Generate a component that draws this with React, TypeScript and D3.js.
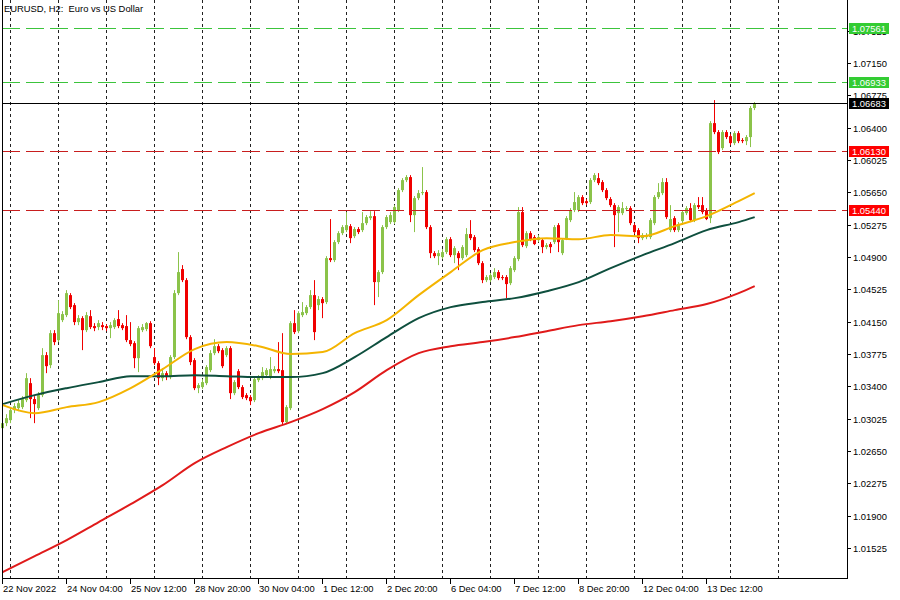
import React, { useEffect, useRef } from 'react';
import * as d3 from 'd3';

// EURUSD H2 bars, 22 Nov 2022 20:00 .. 14 Dec 2022 12:00
const opens = [
  1.02915, 1.02973, 1.03008, 1.03124, 1.03147, 1.03159, 1.03240, 1.03437, 1.03252, 1.03147,
  1.03298, 1.03762, 1.03646, 1.04017, 1.03936, 1.04168, 1.04226, 1.04458, 1.04342, 1.04145,
  1.04191, 1.04052, 1.04214, 1.04099, 1.04087, 1.04110, 1.04099, 1.04075, 1.04087, 1.04180,
  1.04110, 1.04099, 1.03936, 1.03901, 1.03727, 1.04052, 1.04064, 1.04133, 1.03739, 1.03669,
  1.03495, 1.03553, 1.03507, 1.03739, 1.04481, 1.04760, 1.04632, 1.03971, 1.03704, 1.03379,
  1.03391, 1.03437, 1.03588, 1.03785, 1.03866, 1.03820, 1.03762, 1.03843, 1.03321, 1.03576,
  1.03391, 1.03298, 1.03275, 1.03240, 1.03472, 1.03495, 1.03530, 1.03507, 1.03576, 1.03600,
  1.03588, 1.02985, 1.03147, 1.04133, 1.04040, 1.04226, 1.04249, 1.04319, 1.04458, 1.04342,
  1.04412, 1.04377, 1.04887, 1.04864, 1.05073, 1.05177, 1.05212, 1.05258, 1.05142, 1.05224,
  1.05212, 1.05293, 1.05351, 1.05374, 1.04609, 1.04725, 1.05247, 1.05305, 1.05305, 1.05444,
  1.05676, 1.05792, 1.05827, 1.05386, 1.05583, 1.05641, 1.05653, 1.05247, 1.04945, 1.04910,
  1.04899, 1.04957, 1.05107, 1.04922, 1.04945, 1.04887, 1.04922, 1.05166, 1.05131, 1.04991,
  1.04829, 1.04632, 1.04632, 1.04667, 1.04725, 1.04667, 1.04667, 1.04597, 1.04748, 1.04876,
  1.05421, 1.05026, 1.05177, 1.05131, 1.05096, 1.05096, 1.05015, 1.05050, 1.05073, 1.05270,
  1.04945, 1.05119, 1.05328, 1.05444, 1.05444, 1.05595, 1.05548, 1.05537, 1.05792, 1.05815,
  1.05769, 1.05676, 1.05572, 1.05502, 1.05409, 1.05409, 1.05456, 1.05467, 1.05270, 1.05212,
  1.05119, 1.05131, 1.05131, 1.05293, 1.05595, 1.05641, 1.05769, 1.05212, 1.05351, 1.05212,
  1.05317, 1.05409, 1.05467, 1.05328, 1.05502, 1.05502, 1.05444, 1.05351, 1.06453, 1.06349,
  1.06163, 1.06349, 1.06302, 1.06221, 1.06337, 1.06256, 1.06244, 1.06291, 1.06628,
];
const highs = [
  1.03008, 1.03077, 1.03147, 1.03205, 1.03240, 1.03286, 1.03553, 1.03495, 1.03286, 1.03333,
  1.03843, 1.03797, 1.04052, 1.04052, 1.04400, 1.04272, 1.04516, 1.04481, 1.04365, 1.04226,
  1.04214, 1.04261, 1.04284, 1.04133, 1.04168, 1.04145, 1.04122, 1.04145, 1.04191, 1.04284,
  1.04133, 1.04226, 1.04145, 1.03924, 1.04099, 1.04122, 1.04145, 1.04156, 1.03843, 1.03692,
  1.03611, 1.03576, 1.03762, 1.04516, 1.04957, 1.04806, 1.04655, 1.03994, 1.03727, 1.03437,
  1.03483, 1.03646, 1.03820, 1.03947, 1.03890, 1.03843, 1.03866, 1.03866, 1.03472, 1.03600,
  1.03414, 1.03321, 1.03298, 1.03507, 1.03530, 1.03623, 1.03611, 1.03739, 1.03634, 1.03913,
  1.04017, 1.03182, 1.04156, 1.04284, 1.04272, 1.04377, 1.04342, 1.04516, 1.04632, 1.04447,
  1.04435, 1.04910, 1.05340, 1.05096, 1.05200, 1.05270, 1.05421, 1.05282, 1.05247, 1.05247,
  1.05421, 1.05386, 1.05432, 1.05432, 1.04748, 1.05270, 1.05386, 1.05421, 1.05502, 1.05699,
  1.05815, 1.05850, 1.05850, 1.05607, 1.05676, 1.05943, 1.05676, 1.05270, 1.04968, 1.04980,
  1.04991, 1.05131, 1.05131, 1.05026, 1.04968, 1.05038, 1.05235, 1.05328, 1.05154, 1.05015,
  1.04852, 1.04690, 1.04713, 1.04771, 1.04748, 1.04690, 1.04690, 1.04795, 1.04910, 1.05479,
  1.05479, 1.05200, 1.05200, 1.05154, 1.05154, 1.05119, 1.05061, 1.05073, 1.05270, 1.05293,
  1.05119, 1.05374, 1.05467, 1.05653, 1.05618, 1.05618, 1.05572, 1.05815, 1.05873, 1.05873,
  1.05792, 1.05699, 1.05595, 1.05525, 1.05502, 1.05537, 1.05490, 1.05490, 1.05293, 1.05235,
  1.05177, 1.05177, 1.05351, 1.05618, 1.05757, 1.05815, 1.05815, 1.05502, 1.05374, 1.05305,
  1.05444, 1.05490, 1.05525, 1.05525, 1.05595, 1.05595, 1.05467, 1.06476, 1.06720, 1.06372,
  1.06372, 1.06372, 1.06325, 1.06360, 1.06360, 1.06279, 1.06314, 1.06651, 1.06697,
];
const lows = [
  1.02892, 1.02938, 1.02973, 1.03089, 1.03112, 1.03136, 1.03217, 1.03031, 1.02973, 1.03124,
  1.03275, 1.03553, 1.03611, 1.03878, 1.03913, 1.04145, 1.04203, 1.04296, 1.04110, 1.04110,
  1.03820, 1.04029, 1.04064, 1.04040, 1.04052, 1.04052, 1.04040, 1.03959, 1.04064, 1.04075,
  1.04052, 1.03913, 1.03866, 1.03611, 1.03565, 1.04029, 1.04040, 1.03843, 1.03646, 1.03414,
  1.03460, 1.03472, 1.03483, 1.03716, 1.04458, 1.04609, 1.03947, 1.03646, 1.03356, 1.03321,
  1.03368, 1.03414, 1.03565, 1.03762, 1.03785, 1.03611, 1.03739, 1.03252, 1.03298, 1.03368,
  1.03252, 1.03240, 1.03182, 1.03217, 1.03449, 1.03472, 1.03507, 1.03483, 1.03553, 1.03553,
  1.02950, 1.02962, 1.03124, 1.04006, 1.04017, 1.04203, 1.04226, 1.04296, 1.03936, 1.04284,
  1.04191, 1.04354, 1.04841, 1.04841, 1.05050, 1.05154, 1.05189, 1.05061, 1.05119, 1.05166,
  1.05189, 1.05270, 1.05328, 1.04342, 1.04435, 1.04702, 1.05224, 1.05282, 1.05282, 1.05421,
  1.05653, 1.05769, 1.05305, 1.05189, 1.05560, 1.05618, 1.05224, 1.04887, 1.04887, 1.04806,
  1.04876, 1.04934, 1.04899, 1.04829, 1.04748, 1.04864, 1.04899, 1.05096, 1.04957, 1.04806,
  1.04597, 1.04609, 1.04609, 1.04644, 1.04632, 1.04632, 1.04423, 1.04574, 1.04725, 1.04852,
  1.05015, 1.05003, 1.05084, 1.05038, 1.05073, 1.04945, 1.04991, 1.04945, 1.05050, 1.04957,
  1.04922, 1.05096, 1.05305, 1.05421, 1.05421, 1.05502, 1.05502, 1.05514, 1.05769, 1.05734,
  1.05653, 1.05560, 1.05479, 1.05015, 1.05189, 1.05386, 1.05432, 1.05270, 1.05166, 1.05061,
  1.05096, 1.05107, 1.05107, 1.05270, 1.05572, 1.05618, 1.05340, 1.05189, 1.05189, 1.05189,
  1.05293, 1.05386, 1.05305, 1.05305, 1.05456, 1.05397, 1.05328, 1.05293, 1.06325, 1.06094,
  1.06140, 1.06268, 1.06198, 1.06198, 1.06221, 1.06221, 1.06198, 1.06175, 1.06604,
];
const closes = [
  1.02973, 1.03031, 1.03124, 1.03170, 1.03205, 1.03252, 1.03495, 1.03252, 1.03194, 1.03298,
  1.03762, 1.03634, 1.04017, 1.03913, 1.04249, 1.04238, 1.04481, 1.04319, 1.04145, 1.04191,
  1.04052, 1.04226, 1.04087, 1.04075, 1.04133, 1.04087, 1.04075, 1.04110, 1.04168, 1.04099,
  1.04075, 1.03936, 1.03890, 1.03727, 1.04075, 1.04087, 1.04133, 1.03866, 1.03669, 1.03495,
  1.03553, 1.03507, 1.03739, 1.04481, 1.04725, 1.04632, 1.03971, 1.03681, 1.03379, 1.03414,
  1.03449, 1.03623, 1.03785, 1.03866, 1.03808, 1.03634, 1.03843, 1.03321, 1.03449, 1.03391,
  1.03275, 1.03263, 1.03228, 1.03483, 1.03507, 1.03565, 1.03588, 1.03600, 1.03600, 1.03576,
  1.02985, 1.03159, 1.04133, 1.04029, 1.04249, 1.04261, 1.04319, 1.04458, 1.04029, 1.04412,
  1.04365, 1.04887, 1.04864, 1.05073, 1.05177, 1.05247, 1.05270, 1.05119, 1.05224, 1.05189,
  1.05293, 1.05363, 1.05374, 1.04609, 1.04725, 1.05247, 1.05363, 1.05386, 1.05479, 1.05676,
  1.05792, 1.05827, 1.05386, 1.05583, 1.05641, 1.05653, 1.05247, 1.04945, 1.04910, 1.04945,
  1.04957, 1.05107, 1.04922, 1.05003, 1.04887, 1.05015, 1.05166, 1.05119, 1.04980, 1.04829,
  1.04632, 1.04667, 1.04690, 1.04725, 1.04655, 1.04655, 1.04586, 1.04771, 1.04887, 1.05421,
  1.05038, 1.05177, 1.05107, 1.05050, 1.05131, 1.05015, 1.05038, 1.05015, 1.05247, 1.05073,
  1.05096, 1.05351, 1.05444, 1.05537, 1.05595, 1.05525, 1.05525, 1.05792, 1.05850, 1.05757,
  1.05676, 1.05583, 1.05502, 1.05386, 1.05479, 1.05467, 1.05467, 1.05293, 1.05189, 1.05119,
  1.05154, 1.05154, 1.05328, 1.05595, 1.05653, 1.05769, 1.05363, 1.05340, 1.05212, 1.05282,
  1.05421, 1.05467, 1.05328, 1.05502, 1.05479, 1.05421, 1.05340, 1.06453, 1.06349, 1.06117,
  1.06349, 1.06291, 1.06221, 1.06337, 1.06244, 1.06244, 1.06291, 1.06628, 1.06683,
];

// moving averages at every 8th bar
const maBars = [0, 8, 16, 24, 32, 40, 48, 56, 64, 72, 80, 88, 96, 104, 112, 120, 128, 136, 144, 152, 160, 168, 176, 184, 188];
const maFast = [
  1.03182, 1.03089, 1.03159, 1.03217, 1.03379, 1.03600, 1.03832, 1.03913, 1.03866, 1.03774,
  1.03797, 1.04017, 1.04168, 1.04458, 1.04725, 1.04980, 1.05073, 1.05119, 1.05107, 1.05154,
  1.05142, 1.05258, 1.05374, 1.05548, 1.05641,
];
const maMid = [
  1.03194, 1.03298, 1.03379, 1.03449, 1.03518, 1.03518, 1.03530, 1.03518, 1.03507, 1.03507,
  1.03553, 1.03739, 1.03971, 1.04191, 1.04319, 1.04377, 1.04423, 1.04504, 1.04609, 1.04771,
  1.04922, 1.05061, 1.05212, 1.05305, 1.05363,
];
const maSlow = [
  1.01245, 1.01430, 1.01616, 1.01825, 1.02034, 1.02254, 1.02509, 1.02695, 1.02857, 1.02985,
  1.03136, 1.03333, 1.03588, 1.03785, 1.03866, 1.03913, 1.03971, 1.04040, 1.04110, 1.04156,
  1.04214, 1.04284, 1.04354, 1.04481, 1.04562,
];

// horizontal levels
const greenLevels = [1.07561, 1.06933];
const redLevels = [1.06130, 1.05440];
const bidPrice = 1.06683;

const priceTicks = [
  1.01525, 1.01900, 1.02275, 1.02650, 1.03025, 1.03400, 1.03775, 1.04150, 1.04525,
  1.04900, 1.05275, 1.05650, 1.06025, 1.06400, 1.06775, 1.07150, 1.07525,
];
const timeTickBars = [0, 16, 32, 48, 64, 80, 96, 112, 128, 144, 160, 176];
const timeLabels = [
  '22 Nov 2022', '24 Nov 04:00', '25 Nov 12:00', '28 Nov 20:00', '30 Nov 04:00', '1 Dec 12:00',
  '2 Dec 20:00', '6 Dec 04:00', '7 Dec 12:00', '8 Dec 20:00', '12 Dec 04:00', '13 Dec 12:00',
];
const dayStartBars = [2, 14, 26, 38, 50, 62, 74, 86, 98, 110, 122, 134, 146, 158, 170, 182, 194];

const FONT = 'Liberation Sans, Arial, sans-serif';

const App: React.FC = () => {
  const svgRef = useRef<SVGSVGElement>(null);

  useEffect(() => {
    if (!svgRef.current) return;
    const svg = d3.select(svgRef.current);
    svg.selectAll('*').remove();

    const left = 2, right = 847, top = 0, bottom = 578;
    const x = d3.scaleLinear().domain([0, 188]).range([2.7, 754.7]);
    const y = d3.scaleLinear().domain([1.01177, 1.07881]).range([bottom, top]);
    const px = (i: number) => Math.floor(x(i)) + 0.5;

    const bull = '#8bc34a';
    const bear = '#f00000';

    svg.append('rect').attr('width', 900).attr('height', 600).attr('fill', '#fff');

    // day separators (dotted)
    svg.append('g')
      .selectAll('line')
      .data(dayStartBars)
      .join('line')
      .attr('x1', d => px(d))
      .attr('x2', d => px(d))
      .attr('y1', top)
      .attr('y2', bottom)
      .attr('stroke', '#222')
      .attr('stroke-dasharray', '3,3');

    // title
    svg.append('text')
      .attr('x', 4)
      .attr('y', 12)
      .attr('font-family', FONT)
      .attr('font-size', 9.4)
      .style('white-space', 'pre')
      .text('EURUSD, H2:  Euro vs US Dollar');

    // candles
    const candles = svg.append('g');
    closes.forEach((c, i) => {
      const o = opens[i];
      const color = c >= o ? bull : bear;
      const cx = px(i);
      candles.append('line')
        .attr('x1', cx).attr('x2', cx)
        .attr('y1', y(highs[i])).attr('y2', y(lows[i]))
        .attr('stroke', color);
      const yTop = y(Math.max(o, c));
      const yBot = y(Math.min(o, c));
      candles.append('rect')
        .attr('x', cx - 1.5)
        .attr('y', yTop)
        .attr('width', 3)
        .attr('height', Math.max(1, yBot - yTop))
        .attr('fill', color);
    });

    // moving averages
    const maLine = d3.line<number>()
      .x((_, k) => x(maBars[k]))
      .y(v => y(v))
      .curve(d3.curveMonotoneX);
    svg.append('path').attr('d', maLine(maSlow)).attr('fill', 'none').attr('stroke', '#e01a1a').attr('stroke-width', 2);
    svg.append('path').attr('d', maLine(maMid)).attr('fill', 'none').attr('stroke', '#0e4f3e').attr('stroke-width', 2);
    svg.append('path').attr('d', maLine(maFast)).attr('fill', 'none').attr('stroke', '#f4b400').attr('stroke-width', 2);

    // level lines
    const lv = svg.append('g');
    greenLevels.forEach(v => {
      lv.append('line')
        .attr('x1', left).attr('x2', right)
        .attr('y1', Math.round(y(v)) + 0.5).attr('y2', Math.round(y(v)) + 0.5)
        .attr('stroke', '#3cc43c').attr('stroke-dasharray', '18,6');
    });
    redLevels.forEach(v => {
      lv.append('line')
        .attr('x1', left).attr('x2', right)
        .attr('y1', Math.round(y(v)) + 0.5).attr('y2', Math.round(y(v)) + 0.5)
        .attr('stroke', '#c81e1e').attr('stroke-dasharray', '18,6');
    });
    lv.append('line')
      .attr('x1', left).attr('x2', right)
      .attr('y1', Math.round(y(bidPrice)) + 0.5).attr('y2', Math.round(y(bidPrice)) + 0.5)
      .attr('stroke', '#000');

    // frame
    svg.append('line').attr('x1', left + 0.5).attr('x2', left + 0.5).attr('y1', top).attr('y2', bottom + 0.5).attr('stroke', '#000');
    svg.append('line').attr('x1', right + 0.5).attr('x2', right + 0.5).attr('y1', top).attr('y2', bottom + 0.5).attr('stroke', '#000');
    svg.append('line').attr('x1', left).attr('x2', right + 1).attr('y1', bottom + 0.5).attr('y2', bottom + 0.5).attr('stroke', '#000');

    // price axis
    const pa = svg.append('g');
    priceTicks.forEach(v => {
      const yy = Math.round(y(v)) + 0.5;
      pa.append('line').attr('x1', right + 1).attr('x2', right + 4).attr('y1', yy).attr('y2', yy).attr('stroke', '#000');
      pa.append('text')
        .attr('x', 853).attr('y', yy + 3.5)
        .attr('font-family', FONT).attr('font-size', 9.4).attr('fill', '#000')
        .text(d3.format('.5f')(v));
    });

    // time axis
    const ta = svg.append('g');
    timeTickBars.forEach((b, k) => {
      const xx = px(b);
      ta.append('line').attr('x1', xx).attr('x2', xx).attr('y1', bottom + 1).attr('y2', bottom + 6).attr('stroke', '#000');
      ta.append('text')
        .attr('x', xx + 0.5).attr('y', 592)
        .attr('font-family', FONT).attr('font-size', 9.4).attr('fill', '#000')
        .text(timeLabels[k]);
    });

    // price boxes on the axis
    const box = (v: number, fill: string) => {
      const yy = y(v);
      svg.append('rect').attr('x', 849).attr('y', Math.round(yy) - 5).attr('width', 40).attr('height', 11).attr('fill', fill);
      svg.append('text')
        .attr('x', 852).attr('y', Math.round(yy) + 4)
        .attr('font-family', FONT).attr('font-size', 9.4).attr('fill', '#fff')
        .text(d3.format('.5f')(v));
    };
    greenLevels.forEach(v => box(v, '#33cc33'));
    redLevels.forEach(v => box(v, '#ff0000'));
    box(bidPrice, '#000');
  }, []);

  return (
    <svg
      ref={svgRef}
      width={900}
      height={600}
      style={{ position: 'absolute', left: 0, top: 0, display: 'block' }}
    />
  );
};

export default App;
